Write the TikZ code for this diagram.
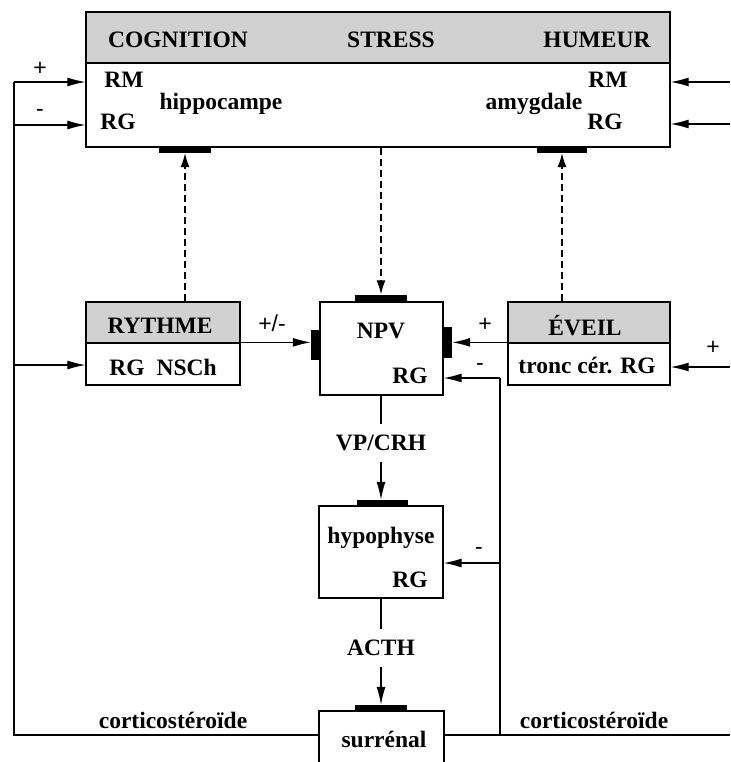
\documentclass[tikz,border=0pt]{standalone}
\usepackage{fontspec}
\setmainfont{Liberation Serif}
\newfontfamily\signfont{Liberation Sans}
\usetikzlibrary{arrows.meta}

\begin{document}
\begin{tikzpicture}[x=1pt,y=-1pt,
        box/.style={draw,line width=1.3pt,inner sep=0pt},
        head/.style={box,fill=black!18},
        bar/.style={fill=black,inner sep=0pt},
        txt/.style={font=\fontsize{23.5}{26}\selectfont\bfseries,inner sep=0pt,anchor=base},
        sign/.style={font=\signfont\fontsize{23}{26}\selectfont,inner sep=0pt},
        wire/.style={line width=1.2pt},
        arr/.style={wire,-{Latex[length=18pt,width=9pt]}},
        dasharr/.style={wire,dash pattern=on 7pt off 4pt,-{Latex[length=14pt,width=9pt]}}]
    \useasboundingbox (0,0) rectangle (730,762);

    % cortex box
    \node[head,minimum width=584pt,minimum height=51pt] (tophead) at (378,37.5) {};
    \node[box,minimum width=584pt,minimum height=84pt] (topbody) at (378,105) {};
    \node[txt] (cogn) at (178,48) {COGNITION};
    \node[txt] (stress) at (391,48) {STRESS};
    \node[txt] (humeur) at (597,48) {HUMEUR};
    \node[txt] (rmL) at (124,88) {RM};
    \node[txt] (rgL) at (118,130) {RG};
    \node[txt] (hippo) at (221,110) {hippocampe};
    \node[txt] (amyg) at (534,110) {amygdale};
    \node[txt] (rmR) at (608,88) {RM};
    \node[txt] (rgR) at (605,130) {RG};
    \node[bar,minimum width=52pt,minimum height=6pt] (barhip) at (185,150) {};
    \node[bar,minimum width=50pt,minimum height=6pt] (baramy) at (562,150) {};

    % rythme and eveil
    \node[head,minimum width=154pt,minimum height=41pt] (rythead) at (163,322.5) {};
    \node[box,minimum width=154pt,minimum height=42pt] (rytbody) at (163,364) {};
    \node[txt] (rythme) at (160,333) {RYTHME};
    \node[txt] (nsch) at (163,375) {RG\hspace{12pt}NSCh};
    \node[head,minimum width=162pt,minimum height=41pt] (evhead) at (589,322.5) {};
    \node[box,minimum width=162pt,minimum height=42pt] (evbody) at (589,364) {};
    \node[txt] (eveil) at (585,335) {ÉVEIL};
    \node[txt] (tronc) at (587,373) {tronc cér. RG};

    % npv
    \node[box,minimum width=123pt,minimum height=93pt] (npv) at (381.5,348.5) {};
    \node[txt] (npvt) at (381,338) {NPV};
    \node[txt] (npvrg) at (410,383) {RG};
    \node[bar,minimum width=52pt,minimum height=7pt] (barnpv) at (381,298) {};
    \node[bar,minimum width=9pt,minimum height=30pt] (barnpvL) at (315.5,345) {};
    \node[bar,minimum width=9pt,minimum height=31pt] (barnpvR) at (447.5,342.5) {};

    % hypophyse
    \node[box,minimum width=124pt,minimum height=92pt] (hypo) at (381,552) {};
    \node[txt] (hypot) at (381,543) {hypophyse};
    \node[txt] (hyporg) at (410,587) {RG};
    \node[bar,minimum width=51pt,minimum height=6pt] (barhypo) at (382.5,503) {};
    \node[txt,anchor=center,inner sep=11pt] (vpcrh) at (381,443) {VP/CRH};

    % surrenal
    \node[box,minimum width=125pt,minimum height=64pt] (surr) at (381.5,743) {};
    \node[txt] (surrt) at (384,747) {surrénal};
    \node[bar,minimum width=52pt,minimum height=6pt] (barsurr) at (381,708) {};
    \node[txt,anchor=center,inner sep=11pt] (acth) at (381,648) {ACTH};
    \node[txt] (corL) at (173,728) {corticostéroïde};
    \node[txt] (corR) at (594,728) {corticostéroïde};

    % signs
    \node[sign] (plL) at (40,69) {+};
    \node[sign] (mnL) at (40,113) {-};
    \node[sign] (pm) at (272,323) {+/-};
    \node[sign] (plE) at (485,325) {+};
    \node[sign] (mnN) at (480,367) {-};
    \node[sign] (plR) at (713,348) {+};
    \node[sign] (mnH) at (479,551) {-};

    % corner points
    \coordinate (cL) at (14,735);
    \coordinate (cR) at (500,735);
    \coordinate (eR) at (730,735);

    % corticosteroid feedback
    \draw[wire] (surr.west |- cL) -- (cL) -- (14,82);
    \draw[arr] (14,82) -- (topbody.west |- 0,82);
    \draw[arr] (14,125) -- (topbody.west |- 0,125);
    \draw[arr] (14,365) -- (rytbody.west |- 0,365);
    \draw[wire] (surr.east |- eR) -- (eR);
    \draw[wire] (cR) -- (500,378);
    \draw[arr] (500,378) -- (npv.east |- 0,378);
    \draw[arr] (500,563) -- (hypo.east |- 0,563);

    % outside inputs
    \draw[arr] (730,82) -- (topbody.east |- 0,82);
    \draw[arr] (730,124) -- (topbody.east |- 0,124);
    \draw[arr] (730,367) -- (evbody.east |- 0,367);

    % modulation
    \draw[dasharr] (topbody.south -| barnpv) -- (barnpv.north);
    \draw[dasharr] (rythead.north -| barhip) -- (barhip.south);
    \draw[dasharr] (evhead.north -| baramy) -- (baramy.south);
    \draw[arr] (rytbody.north east) -- (barnpvL.west |- rytbody.north east);
    \draw[arr] (evbody.north west) -- (barnpvR.east |- evbody.north west);

    % axis
    \draw[wire] (npv.south -| vpcrh) -- (vpcrh.north);
    \draw[arr] (vpcrh.south) -- (barhypo.north -| vpcrh);
    \draw[wire] (hypo.south -| acth) -- (acth.north);
    \draw[arr] (acth.south) -- (barsurr.north -| acth);
\end{tikzpicture}
\end{document}
